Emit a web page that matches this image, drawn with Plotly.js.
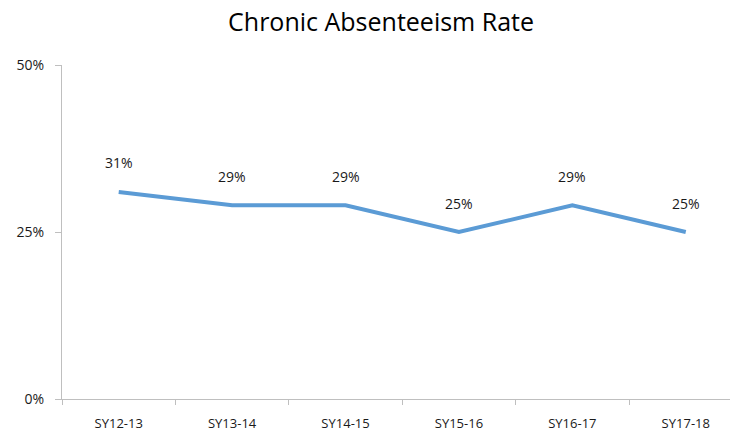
<!DOCTYPE html>
<html><head><meta charset="utf-8">
<script src="https://cdn.plot.ly/plotly-3.0.1.min.js"></script>
<style>html,body{margin:0;padding:0;background:#fff;}#chart{width:730px;height:435px;}</style>
</head><body><div id="chart"></div>
<script>
const categories = ["SY12-13","SY13-14","SY14-15","SY15-16","SY16-17","SY17-18"];
const rates = [0.31, 0.29, 0.29, 0.25, 0.29, 0.25];
const labels = ["31%","29%","29%","25%","29%","25%"];
const yTicks = [0, 0.25, 0.5];
const yTickLabels = ["0%","25%","50%"];

const font = "Open Sans, Liberation Sans, sans-serif";
const trace = {
  x: categories, y: rates, type: "scatter", mode: "lines",
  line: {color: "#5B9BD5", width: 4}, hoverinfo: "skip"
};
const annotations = categories.map((c, i) => ({
  x: c, y: rates[i], text: labels[i], showarrow: false,
  yshift: 29, font: {family: font, size: 14, color: "#1a1a1a"}
}));
const layout = {
  width: 730, height: 435,
  margin: {l: 62, r: 0, t: 65, b: 36},
  paper_bgcolor: "#fff", plot_bgcolor: "#fff",
  showlegend: false,
  title: {text: "Chronic Absenteeism Rate", x: 0.522, xref: "container", xanchor: "center",
          y: 0.949, yref: "container", yanchor: "middle",
          font: {family: font, size: 25, color: "#000"}},
  xaxis: {
    type: "category", range: [-0.5, 5.39], showgrid: false, zeroline: false,
    showline: true, linecolor: "#bfbfbf", linewidth: 1,
    ticks: "outside", tickson: "boundaries", ticklen: 5, tickcolor: "#bfbfbf",
    ticklabelstandoff: 12,
    tickfont: {family: font, size: 13, color: "#1a1a1a"}, fixedrange: true
  },
  yaxis: {
    range: [0, 0.5], tickvals: yTicks, ticktext: yTickLabels, showgrid: false, zeroline: false,
    showline: true, linecolor: "#bfbfbf", linewidth: 1,
    ticks: "outside", ticklen: 6, tickcolor: "#bfbfbf",
    ticklabelstandoff: 8,
    tickfont: {family: font, size: 14, color: "#1a1a1a"}, fixedrange: true
  },
  annotations: annotations
};
Plotly.newPlot("chart", [trace], layout, {displayModeBar: false, staticPlot: true});
</script></body></html>
